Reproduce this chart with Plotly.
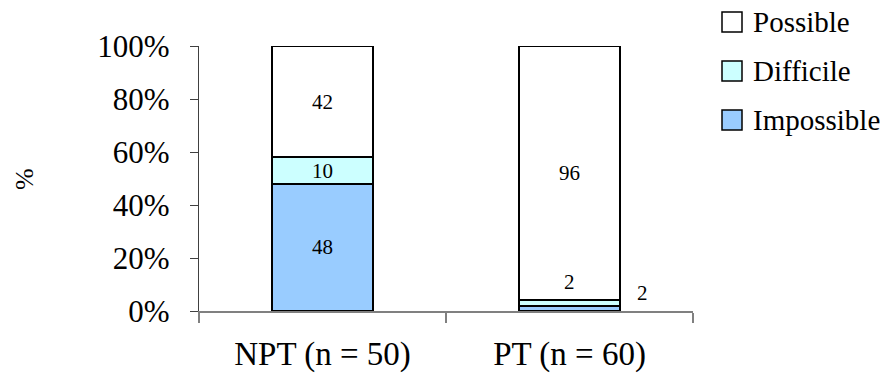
import plotly.graph_objects as go

# ---- data -------------------------------------------------------------
categories = ["NPT (n = 50)", "PT (n = 60)"]
series_names = ["Impossible", "Difficile", "Possible"]
impossible = [48, 2]
difficile = [10, 2]
possible = [42, 96]
series_colors = ["#99CCFF", "#CCFFFF", "#FFFFFF"]
y_tick_values = [0, 20, 40, 60, 80, 100]
y_tick_labels = ["0%", "20%", "40%", "60%", "80%", "100%"]

# ---- layout helpers ---------------------------------------------------
FONT = "Liberation Serif, Times New Roman, serif"
W, H = 894, 380
L, R, T, B = 199, 693, 46, 311          # plot area in pixels


def px(x):
    return (x - L) / (R - L)


def py(y):
    return (B - y) / (B - T)


series_values = [impossible, difficile, possible]
MIN_INSIDE = 5                            # thinner segments get an outside label
outside_offset = {"Impossible": (73, 15, "mid"), "Difficile": (0, 18, "top")}

fig = go.Figure()
annotations = []
bases = [0] * len(categories)
for name, vals, col in zip(series_names, series_values, series_colors):
    inside_text = [str(v) if v >= MIN_INSIDE else "" for v in vals]
    fig.add_trace(go.Bar(
        name=name, x=categories, y=vals,
        marker=dict(color=col, line=dict(color="black", width=2)),
        text=inside_text, textposition="inside", insidetextanchor="middle",
        textangle=0, textfont=dict(family=FONT, size=21, color="black"),
        hoverinfo="skip", showlegend=False,
    ))
    for i, v in enumerate(vals):
        if v < MIN_INSIDE and name in outside_offset:
            dx, dy, where = outside_offset[name]
            yv = bases[i] + (v / 2 if where == "mid" else v)
            annotations.append(dict(
                x=categories[i], y=yv, xref="x", yref="y", text=str(v),
                showarrow=False, xshift=dx, yshift=dy,
                font=dict(family=FONT, size=21, color="black"),
            ))
    bases = [b + v for b, v in zip(bases, vals)]

# legend drawn as key squares plus labels, top to bottom
shapes = []
legend_centers = [22, 71, 120]
for (name, col), cy in zip(list(zip(series_names, series_colors))[::-1], legend_centers):
    shapes.append(dict(
        type="rect", xref="paper", yref="paper",
        x0=px(722), x1=px(742), y0=py(cy + 10), y1=py(cy - 10),
        fillcolor=col, line=dict(color="black", width=1.5),
    ))
    annotations.append(dict(
        x=px(751), y=py(cy), xref="paper", yref="paper", text=name,
        showarrow=False, xanchor="left", yanchor="middle",
        font=dict(family=FONT, size=29, color="black"),
    ))

# y axis title
annotations.append(dict(
    x=px(24), y=py(179), xref="paper", yref="paper", text="%",
    textangle=-90, showarrow=False, xanchor="center", yanchor="middle",
    font=dict(family=FONT, size=26, color="black"),
))

fig.update_layout(
    width=W, height=H,
    margin=dict(l=L, r=W - R, t=T, b=H - B, pad=0),
    barmode="stack", bargap=0.595,
    uniformtext=dict(minsize=21, mode="show"),
    plot_bgcolor="white", paper_bgcolor="white",
    font=dict(family=FONT, color="black"),
    showlegend=False,
    shapes=shapes, annotations=annotations,
    xaxis=dict(
        showline=True, linecolor="#808080", linewidth=1.5,
        ticks="outside", tickson="boundaries", ticklen=10,
        tickcolor="#808080", tickwidth=1.5,
        tickfont=dict(family=FONT, size=33, color="black"),
        ticklabelstandoff=13, automargin=False,
        showgrid=False, zeroline=False,
    ),
    yaxis=dict(
        range=[0, 100], tickvals=y_tick_values, ticktext=y_tick_labels,
        showline=True, linecolor="#404040", linewidth=1.2,
        ticks="outside", ticklen=8, tickcolor="#404040", tickwidth=1.2,
        tickfont=dict(family=FONT, size=31, color="black"),
        ticklabelstandoff=14, automargin=False,
        showgrid=False, zeroline=False,
    ),
)

fig.write_html("out.html")
